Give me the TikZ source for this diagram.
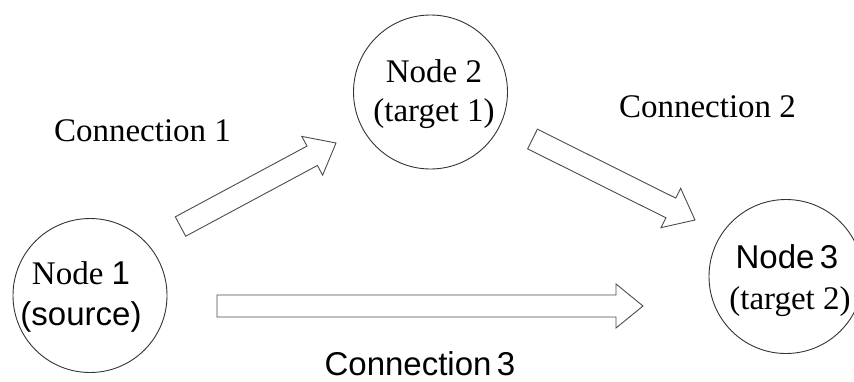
\documentclass[tikz,border=0pt]{standalone}
\usepackage{fontspec}
\setmainfont{Liberation Serif}
\newfontfamily\arialfont{Liberation Sans}
\usetikzlibrary{calc}
\tikzset{
  nodecircle/.style={circle, draw=black!80, line width=0.9pt, minimum size=154pt, inner sep=0pt},
  txt/.style={anchor=base, inner sep=0pt, font=\fontsize{33}{38}\selectfont},
  blockline/.style={draw=black!70, line width=0.9pt, line join=miter, fill=white}
}
\newcommand\blockarrow[2]{%
  \coordinate (#1h) at ($(#2)!27pt!(#1)$);
  \draw[blockline] ($(#1)!11pt!90:(#2)$) -- ($(#1h)!11pt!90:(#2)$) -- ($(#1h)!22pt!90:(#2)$) -- (#2)
    -- ($(#1h)!22pt!-90:(#2)$) -- ($(#1h)!11pt!-90:(#2)$) -- ($(#1)!11pt!-90:(#2)$) -- cycle;}
\begin{document}
\begin{tikzpicture}[x=1pt, y=-1pt]
\useasboundingbox (0,0) rectangle (854,381);
% circles
\node[nodecircle] (n1) at (90,295.5) {};
\node[nodecircle] (n2) at (430.5,92) {};
\node[nodecircle] (n3) at (786,276.5) {};
% node texts
\node[txt] (n1a) at (81,284) {Node {\arialfont 1}};
\node[txt] (n1b) at (81,325) {\arialfont (source)};
\node[txt] (n2a) at (434,82) {Node 2};
\node[txt] (n2b) at (434,121) {(target 1)};
\node[txt] (n3a) at (787,268) {\arialfont Node\,3};
\node[txt] (n3b) at (790,309) {(target 2)};
% connection labels
\node[txt] (l1) at (142.5,141) {Connection 1};
\node[txt] (l2) at (707.5,117) {Connection 2};
\node[txt] (l3) at (420,375.5) {\arialfont Connection\,3};
% block arrows
\coordinate (c1s) at (180.5,226.5);
\coordinate (c1e) at (336,143);
\coordinate (c2s) at (532.5,139);
\coordinate (c2e) at (695,220);
\coordinate (c3s) at (217,306);
\coordinate (c3e) at (643,306);
\blockarrow{c1s}{c1e}
\blockarrow{c2s}{c2e}
\blockarrow{c3s}{c3e}
\end{tikzpicture}
\end{document}
